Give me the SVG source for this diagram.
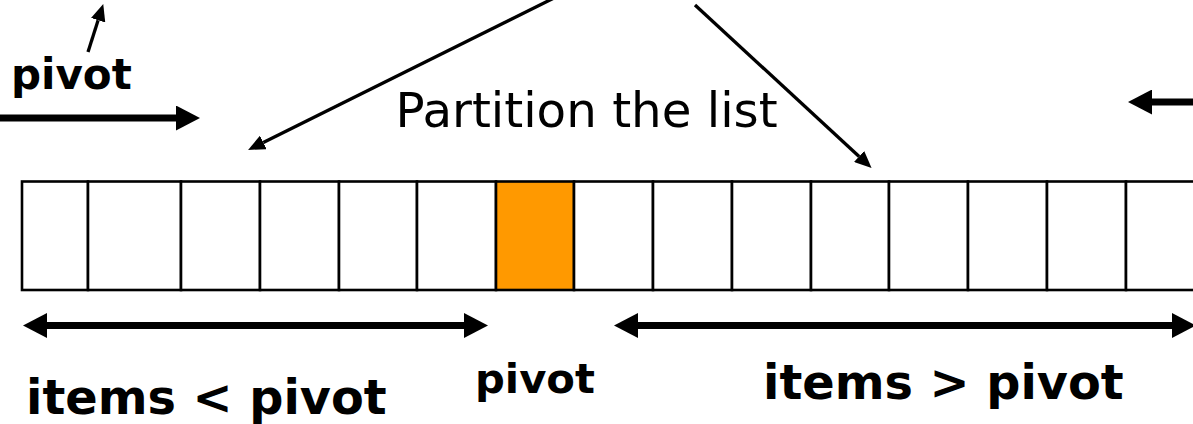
<svg xmlns="http://www.w3.org/2000/svg" width="1193" height="424" viewBox="0 0 1193 424">
  <style>
    .cell { fill: #ffffff; stroke: #000000; stroke-width: 2.6; }
    .pivot-cell { fill: #ff9900; stroke: #000000; stroke-width: 2.6; }
    .thick { stroke: #000000; stroke-width: 7; fill: none; }
    .thin { stroke: #000000; stroke-width: 3.3; fill: none; }
    .bold { font-family: "DejaVu Sans", Verdana, sans-serif; font-weight: bold; fill: #000000; }
    .plain { font-family: "DejaVu Sans", Verdana, sans-serif; fill: #000000; }
  </style>
  <defs>
    <marker id="headBig" viewBox="0 0 24 25" refX="0" refY="12.5" markerWidth="24" markerHeight="25" markerUnits="userSpaceOnUse" orient="auto-start-reverse">
      <path d="M0,0 L24,12.5 L0,25 Z" fill="#000000"/>
    </marker>
    <marker id="headSmall" viewBox="0 0 17 15" refX="0" refY="7.5" markerWidth="17" markerHeight="15" markerUnits="userSpaceOnUse" orient="auto">
      <path d="M0,0 L17,7.5 L0,15 Z" fill="#000000"/>
    </marker>
  </defs>

  <!-- list cells -->
  <g id="cells">
    <rect class="cell" x="22" y="181.5" width="66" height="108.5"/>
    <rect class="cell" x="88" y="181.5" width="93" height="108.5"/>
    <rect class="cell" x="181" y="181.5" width="79" height="108.5"/>
    <rect class="cell" x="260" y="181.5" width="79" height="108.5"/>
    <rect class="cell" x="339" y="181.5" width="78" height="108.5"/>
    <rect class="cell" x="417" y="181.5" width="79" height="108.5"/>
    <rect id="pivot-cell" class="pivot-cell" x="496" y="181.5" width="78" height="108.5"/>
    <rect class="cell" x="574" y="181.5" width="79" height="108.5"/>
    <rect class="cell" x="653" y="181.5" width="79" height="108.5"/>
    <rect class="cell" x="732" y="181.5" width="79" height="108.5"/>
    <rect class="cell" x="811" y="181.5" width="78" height="108.5"/>
    <rect class="cell" x="889" y="181.5" width="79" height="108.5"/>
    <rect class="cell" x="968" y="181.5" width="79" height="108.5"/>
    <rect class="cell" x="1047" y="181.5" width="79" height="108.5"/>
    <rect class="cell" x="1126" y="181.5" width="79" height="108.5"/>
  </g>

  <!-- labels -->
  <g id="label-pivot-top">
    <text class="bold" x="11" y="89" font-size="42">pivot</text>
  </g>
  <g id="label-partition">
    <text class="plain" x="395.5" y="127" font-size="48.3">Partition the list</text>
  </g>
  <g id="label-items-less">
    <text class="bold" x="26" y="414" font-size="47.8">items &lt; pivot</text>
  </g>
  <g id="label-pivot-bottom">
    <text class="bold" x="475" y="393" font-size="41.7">pivot</text>
  </g>
  <g id="label-items-greater">
    <text class="bold" x="763" y="399" font-size="47.8">items &gt; pivot</text>
  </g>

  <!-- connectors -->
  <g id="connectors">
    <line class="thin" x1="88" y1="52" x2="98.1" y2="20.2" marker-end="url(#headSmall)"/>
    <line class="thick" x1="0" y1="118" x2="176" y2="118" marker-end="url(#headBig)"/>
    <line class="thin" x1="556" y1="-3" x2="263.3" y2="142.4" marker-end="url(#headSmall)"/>
    <line class="thin" x1="695" y1="5" x2="859.1" y2="156.5" marker-end="url(#headSmall)"/>
    <line class="thick" x1="1200" y1="102" x2="1152" y2="102" marker-end="url(#headBig)"/>
    <line class="thick" x1="47" y1="325.5" x2="464" y2="325.5" marker-start="url(#headBig)" marker-end="url(#headBig)"/>
    <line class="thick" x1="638" y1="325.5" x2="1172" y2="325.5" marker-start="url(#headBig)" marker-end="url(#headBig)"/>
  </g>
</svg>
